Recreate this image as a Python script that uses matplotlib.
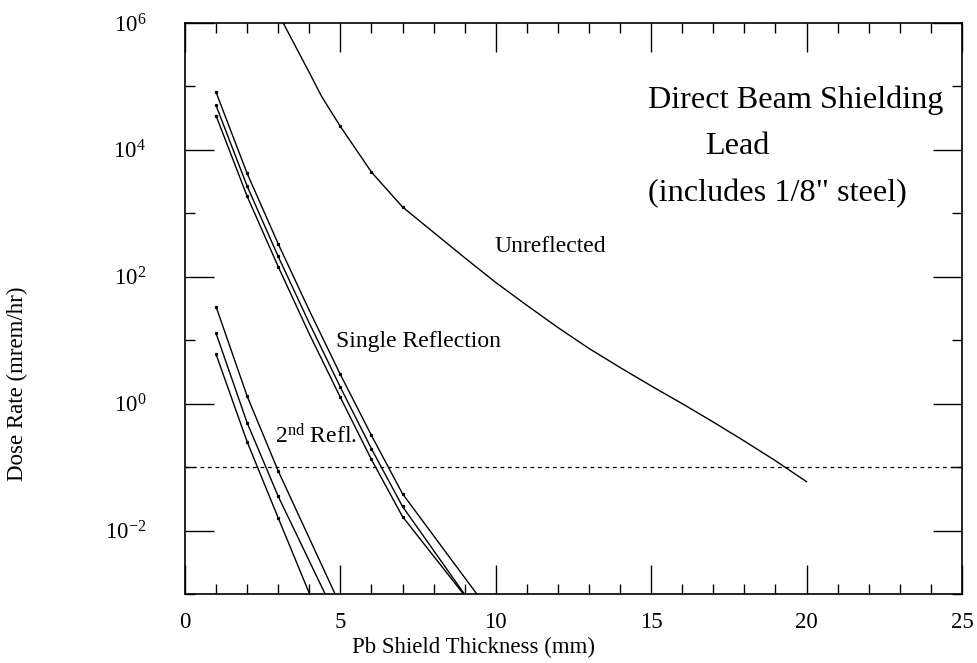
import matplotlib
matplotlib.use("Agg")
import matplotlib.pyplot as plt
from matplotlib.ticker import FixedLocator, FuncFormatter, NullFormatter
import numpy as np

plt.rcParams['font.family'] = ['Liberation Serif', 'DejaVu Serif']
plt.rcParams['mathtext.fontset'] = 'custom'
plt.rcParams['mathtext.rm'] = 'Liberation Serif'
plt.rcParams['mathtext.it'] = 'Liberation Serif:italic'

# Unreflected beam (mm Pb, mrem/hr as log10)
unrefl_x = [3, 4, 4.4, 5, 6, 7, 8, 9, 10, 11, 12, 13, 14, 15, 16, 17, 18, 19, 20]
unrefl_logy = [6.15, 5.22, 4.84, 4.37, 3.65, 3.10, 2.70, 2.30, 1.91, 1.55, 1.20,
               0.87, 0.57, 0.28, 0.0, -0.29, -0.59, -0.90, -1.23]

# Single reflection, three curves
single_x = [1, 2, 3, 4, 5, 6, 7]
single_a_logy = [4.91, 3.63, 2.52, 1.47, 0.46, -0.50, -1.42]
single_b_logy = [4.70, 3.43, 2.32, 1.27, 0.26, -0.71, -1.62]
single_c_logy = [4.54, 3.27, 2.16, 1.10, 0.10, -0.88, -1.78]
single_end_x = [9.39, 8.99, 8.96]

# Second reflection, three curves
second_x = [1, 2, 3]
second_a_logy = [1.53, 0.12, -1.06]
second_b_logy = [1.11, -0.30, -1.46]
second_c_logy = [0.78, -0.60, -1.80]
second_end_x = [4.83, 4.51, 4.01]

limit_rate = 0.1

fig = plt.figure(figsize=(9.77, 6.63), dpi=100)
ax = fig.add_axes([0.1893, 0.1041, 0.7953, 0.8612])

lw = 1.0
ax.plot(unrefl_x, 10 ** np.array(unrefl_logy), color='black', lw=lw,
        marker='s', ms=1.3, markevery=[3, 4, 5])

for logy, xend in zip([single_a_logy, single_b_logy, single_c_logy], single_end_x):
    xs = single_x + [xend]
    ys = 10 ** np.array(logy + [-3.0])
    ax.plot(xs, ys, color='black', lw=lw, marker='s', ms=1.3, markevery=[0, 1, 2, 4, 5, 6])

for logy, xend in zip([second_a_logy, second_b_logy, second_c_logy], second_end_x):
    xs = second_x + [xend]
    ys = 10 ** np.array(logy + [-3.0])
    ax.plot(xs, ys, color='black', lw=lw, marker='s', ms=1.3, markevery=[0, 1, 2])

ax.axhline(limit_rate, color='black', lw=0.9, ls=(0, (3, 3)))

ax.set_yscale('log')
ax.set_xlim(0, 25)
ax.set_ylim(1e-3, 1e6)

ax.xaxis.set_major_locator(FixedLocator([0, 5, 10, 15, 20, 25]))
ax.xaxis.set_minor_locator(FixedLocator([i for i in range(26) if i % 5]))
ax.yaxis.set_major_locator(FixedLocator([1e-2, 1e0, 1e2, 1e4, 1e6]))
ax.yaxis.set_minor_locator(FixedLocator([1e-3, 1e-1, 1e1, 1e3, 1e5]))
ax.yaxis.set_minor_formatter(NullFormatter())
ax.yaxis.set_major_formatter(FuncFormatter(
    lambda v, p: r'$\mathregular{10^{%d}}$' % int(round(np.log10(v)))))

ax.tick_params(which='both', direction='in', top=True, right=True, width=1.0)
ax.tick_params(which='major', length=21)
ax.tick_params(which='minor', length=7)
ax.tick_params(axis='x', labelsize=16.5, pad=13)
ax.tick_params(axis='y', labelsize=16.5, pad=28)
for s in ax.spines.values():
    s.set_linewidth(1.2)

ax.set_xlabel('Pb Shield Thickness (mm)', fontsize=16.5)
ax.xaxis.set_label_coords(0.371, -0.075)
ax.set_ylabel('Dose Rate (mrem/hr)', fontsize=16.5)
ax.yaxis.set_label_coords(-0.202, 0.368)

ax.text(0.596, 0.865, 'Direct Beam Shielding', transform=ax.transAxes, fontsize=23.2, va='center')
ax.text(0.669, 0.783, 'Lead', transform=ax.transAxes, fontsize=23.2, va='center')
ax.text(0.596, 0.702, '(includes 1/8" steel)', transform=ax.transAxes, fontsize=23.2, va='center')
ax.text(0.398, 0.608, 'Unreflected', transform=ax.transAxes, fontsize=17, va='center')
ax.text(0.194, 0.443, 'Single Reflection', transform=ax.transAxes, fontsize=17, va='center')
ax.text(0.116, 0.277, r'2$^{\mathregular{nd}}$ Refl.', transform=ax.transAxes, fontsize=17, va='center')

fig.savefig('out.png', dpi=100)
